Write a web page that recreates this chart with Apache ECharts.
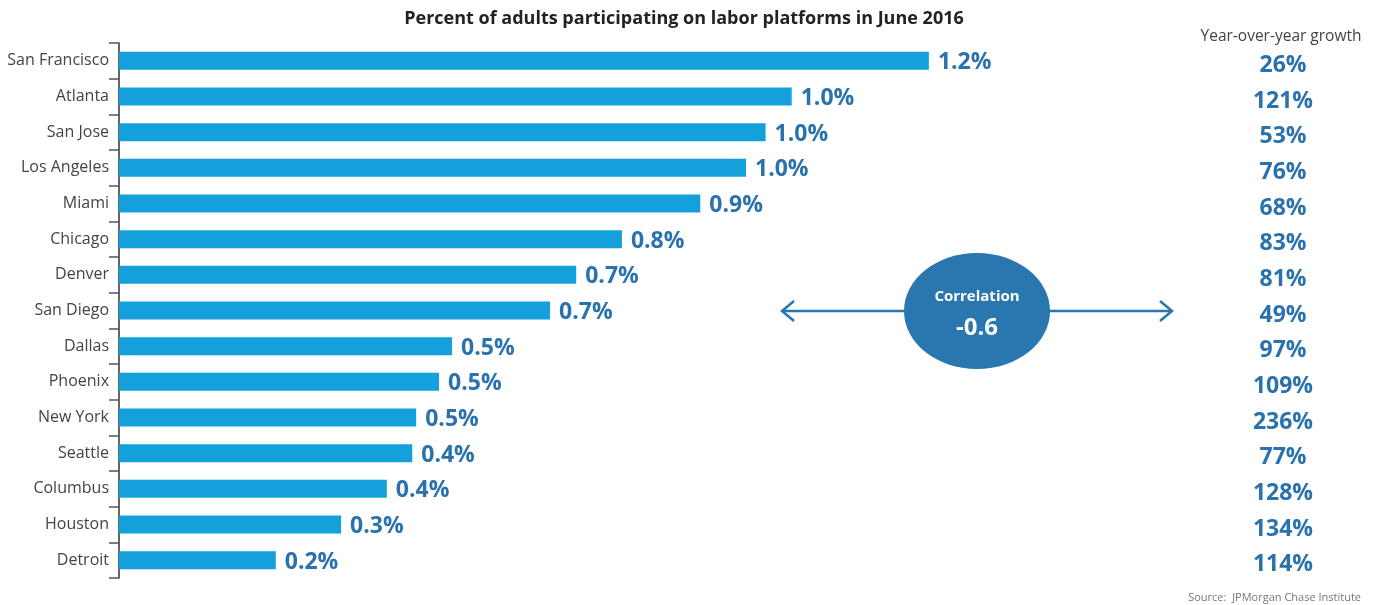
<!DOCTYPE html>
<html>
<head>
<meta charset="utf-8">
<script src="https://cdn.jsdelivr.net/npm/echarts@6/dist/echarts.min.js"></script>
<style>
  html, body { margin: 0; padding: 0; background: #fff; }
  #grafica { width: 1381px; height: 605px; }
</style>
</head>
<body>
<div id="grafica"></div>
<script>
// datos
var ciudades = ["San Francisco", "Atlanta", "San Jose", "Los Angeles", "Miami", "Chicago",
  "Denver", "San Diego", "Dallas", "Phoenix", "New York", "Seattle", "Columbus", "Houston", "Detroit"];
var participacion = [1.24, 1.03, 0.99, 0.96, 0.89, 0.77, 0.70, 0.66, 0.51, 0.49, 0.455, 0.449, 0.41, 0.34, 0.24];
var etiquetas = ["1.2%", "1.0%", "1.0%", "1.0%", "0.9%", "0.8%", "0.7%", "0.7%", "0.5%", "0.5%",
  "0.5%", "0.4%", "0.4%", "0.3%", "0.2%"];
var crecimiento = ["26%", "121%", "53%", "76%", "68%", "83%", "81%", "49%", "97%", "109%",
  "236%", "77%", "128%", "134%", "114%"];

var colores = {
  barras: "#14a0db",
  etiquetas: "#2a72ae",
  elipse: "#2a76ae",
  texto: "#444"
};
var fuente = "Open Sans";

document.addEventListener("DOMContentLoaded", function () {
  cargarGrafica();
});

function cargarGrafica() {
  var chart = echarts.init(document.getElementById("grafica"));
  var cy = 311;
  var option = {
    animation: false,
    textStyle: { fontFamily: fuente },
    title: [
      {
        text: "Percent of adults participating on labor platforms in June 2016",
        left: 679, top: 5, textAlign: "center",
        textStyle: { fontSize: 18, fontWeight: "bold", color: "#222", fontFamily: fuente }
      },
      {
        text: "Year-over-year growth",
        left: 1276, top: 24, textAlign: "center",
        textStyle: { fontSize: 15.5, fontWeight: "normal", color: colores.texto, fontFamily: fuente }
      },
      {
        text: "Source:  JPMorgan Chase Institute",
        right: 15, top: 587,
        textStyle: { fontSize: 11, fontWeight: "normal", color: "#777", fontFamily: fuente }
      }
    ],
    grid: { left: 119, right: 217, top: 43, bottom: 27, containLabel: false },
    xAxis: { type: "value", min: 0, max: 1.6, show: false },
    yAxis: [
      {
        type: "category",
        data: ciudades,
        inverse: true,
        axisLine: { show: true, lineStyle: { color: "#333", width: 1.5 } },
        axisTick: { show: true, length: 10, lineStyle: { color: "#555", width: 1.5 } },
        axisLabel: { color: colores.texto, fontSize: 16, margin: 10 }
      },
      {
        type: "category",
        data: crecimiento,
        inverse: true,
        position: "right",
        axisLine: { show: false },
        axisTick: { show: false },
        axisLabel: {
          color: colores.etiquetas, fontSize: 23, fontWeight: "bold",
          align: "center", margin: 119, verticalAlign: "top", lineHeight: 9
        }
      }
    ],
    series: [
      {
        name: "Participacion",
        type: "bar",
        data: participacion,
        barWidth: 18,
        itemStyle: { color: colores.barras },
        label: {
          show: true,
          position: "right",
          distance: 9,
          offset: [0, 2],
          color: colores.etiquetas,
          fontSize: 23,
          fontWeight: "bold",
          formatter: function (p) { return etiquetas[p.dataIndex]; }
        }
      }
    ],
    graphic: [
      {
        type: "line",
        shape: { x1: 782, y1: cy, x2: 906, y2: cy },
        style: { stroke: colores.elipse, lineWidth: 2.5 }
      },
      {
        type: "polyline",
        shape: { points: [[794, cy - 10], [782, cy], [794, cy + 10]] },
        style: { stroke: colores.elipse, lineWidth: 2.5, fill: null }
      },
      {
        type: "line",
        shape: { x1: 1048, y1: cy, x2: 1172, y2: cy },
        style: { stroke: colores.elipse, lineWidth: 2.5 }
      },
      {
        type: "polyline",
        shape: { points: [[1160, cy - 10], [1172, cy], [1160, cy + 10]] },
        style: { stroke: colores.elipse, lineWidth: 2.5, fill: null }
      },
      {
        type: "ellipse",
        shape: { cx: 977, cy: cy, rx: 73, ry: 58 },
        style: { fill: colores.elipse }
      },
      {
        type: "text",
        x: 977, y: 297,
        style: {
          text: "Correlation", fill: "#fff", fontSize: 15, fontWeight: "bold",
          fontFamily: fuente, align: "center", verticalAlign: "middle"
        }
      },
      {
        type: "text",
        x: 977, y: 328,
        style: {
          text: "-0.6", fill: "#fff", fontSize: 24, fontWeight: "bold",
          fontFamily: fuente, align: "center", verticalAlign: "middle"
        }
      }
    ]
  };
  chart.setOption(option);
}
</script>
</body>
</html>
